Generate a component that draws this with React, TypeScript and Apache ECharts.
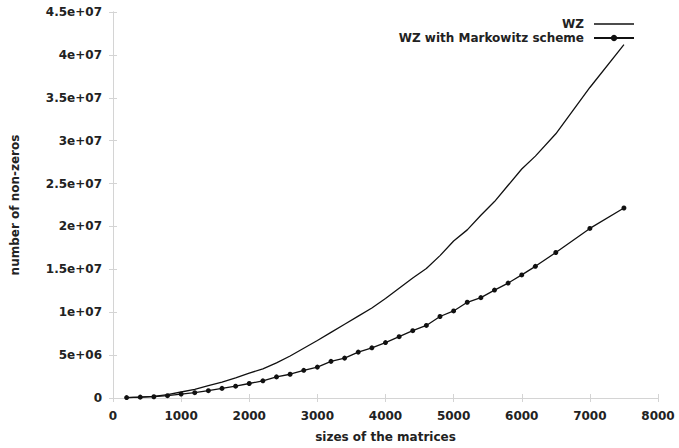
import React, { useEffect, useRef } from "react";
import * as echarts from "echarts";

const sizes = [
  200, 400, 600, 800, 1000, 1200, 1400, 1600, 1800, 2000, 2200, 2400, 2600, 2800, 3000,
  3200, 3400, 3600, 3800, 4000, 4200, 4400, 4600, 4800, 5000, 5200, 5400, 5600, 5800,
  6000, 6200, 6500, 7000, 7500,
];

// values in millions of non-zeros
const wzMillions = [
  0.05, 0.1, 0.2, 0.4, 0.7, 1.0, 1.45, 1.85, 2.35, 2.9, 3.4, 4.1, 4.9, 5.8, 6.7,
  7.65, 8.6, 9.55, 10.5, 11.6, 12.8, 14.0, 15.1, 16.6, 18.3, 19.6, 21.3, 22.9, 24.8,
  26.7, 28.2, 30.8, 36.2, 41.2,
];

const markowitzMillions = [
  0.05, 0.1, 0.15, 0.27, 0.46, 0.62, 0.85, 1.12, 1.38, 1.69, 2.0, 2.46, 2.77, 3.23, 3.6,
  4.27, 4.65, 5.35, 5.85, 6.46, 7.15, 7.85, 8.46, 9.5, 10.15, 11.16, 11.7, 12.58, 13.4,
  14.35, 15.35, 16.96, 19.77, 22.15,
];

const seriesNames = ["WZ", "WZ with Markowitz scheme"];

const xTickLabels = ["0", "1000", "2000", "3000", "4000", "5000", "6000", "7000", "8000"];
const yTickLabels = [
  "0", "5e+06", "1e+07", "1.5e+07", "2e+07", "2.5e+07", "3e+07", "3.5e+07", "4e+07", "4.5e+07",
];

const FONT = "DejaVu Sans";
const TEXT = "#222";
const FRAME = "#d4d4d4";
const LINE = "#111";

export default function App() {
  const ref = useRef<HTMLDivElement>(null);

  useEffect(() => {
    if (!ref.current) return;
    const chart = echarts.init(ref.current, null, { renderer: "svg" });

    const labelStyle = { fontFamily: FONT, fontWeight: "bold", fontSize: 12, color: TEXT };
    const frameLine = { show: true, lineStyle: { color: FRAME, width: 1 } };
    const frameTick = { show: true, inside: true, length: 4, lineStyle: { color: FRAME } };

    const wzData = sizes.map((s, i) => [s, wzMillions[i] * 1e6]);
    const mkData = sizes.map((s, i) => [s, markowitzMillions[i] * 1e6]);

    chart.setOption({
      animation: false,
      backgroundColor: "#fff",
      grid: { left: 113, right: 21, top: 12, bottom: 44, containLabel: false },
      legend: {
        data: [
          { name: seriesNames[0], icon: "path://M0,0L40,0L40,1.3L0,1.3Z" },
          { name: seriesNames[1] },
        ],
        orient: "vertical",
        right: 39,
        top: 13,
        align: "right",
        itemWidth: 40,
        itemHeight: 8,
        itemGap: 2,
        textStyle: { ...labelStyle, lineHeight: 12, padding: [0, 5, 0, 0] },
      },
      xAxis: [
        {
          type: "value",
          min: 0,
          max: 8000,
          interval: 1000,
          position: "bottom",
          name: "sizes of the matrices",
          nameLocation: "middle",
          nameGap: 33,
          nameTextStyle: labelStyle,
          axisLine: frameLine,
          axisTick: frameTick,
          splitLine: { show: false },
          axisLabel: {
            ...labelStyle,
            margin: 12,
            formatter: (v: number) => xTickLabels[Math.round(v / 1000)] ?? "",
          },
        },
        {
          type: "value",
          min: 0,
          max: 8000,
          interval: 1000,
          position: "top",
          axisLine: frameLine,
          axisTick: frameTick,
          splitLine: { show: false },
          axisLabel: { show: false },
        },
      ],
      yAxis: [
        {
          type: "value",
          min: 0,
          max: 4.5e7,
          interval: 5e6,
          position: "left",
          name: "number of non-zeros",
          nameLocation: "middle",
          nameGap: 92,
          nameTextStyle: labelStyle,
          axisLine: frameLine,
          axisTick: frameTick,
          splitLine: { show: false },
          axisLabel: {
            ...labelStyle,
            margin: 11,
            padding: [4, 0, 0, 0],
            formatter: (v: number) => yTickLabels[Math.round(v / 5e6)] ?? "",
          },
        },
        {
          type: "value",
          min: 0,
          max: 4.5e7,
          interval: 5e6,
          position: "right",
          axisLine: frameLine,
          axisTick: frameTick,
          splitLine: { show: false },
          axisLabel: { show: false },
        },
      ],
      series: [
        {
          name: seriesNames[0],
          type: "line",
          data: wzData,
          symbol: "none",
          lineStyle: { color: LINE, width: 1.3 },
          itemStyle: { color: LINE },
        },
        {
          name: seriesNames[1],
          type: "line",
          data: mkData,
          symbol: "circle",
          symbolSize: 5,
          lineStyle: { color: LINE, width: 1.3 },
          itemStyle: { color: LINE },
        },
      ],
    });

    return () => chart.dispose();
  }, []);

  return (
    <div
      ref={ref}
      style={{ position: "absolute", left: 0, top: 0, width: 679, height: 448 }}
    />
  );
}
